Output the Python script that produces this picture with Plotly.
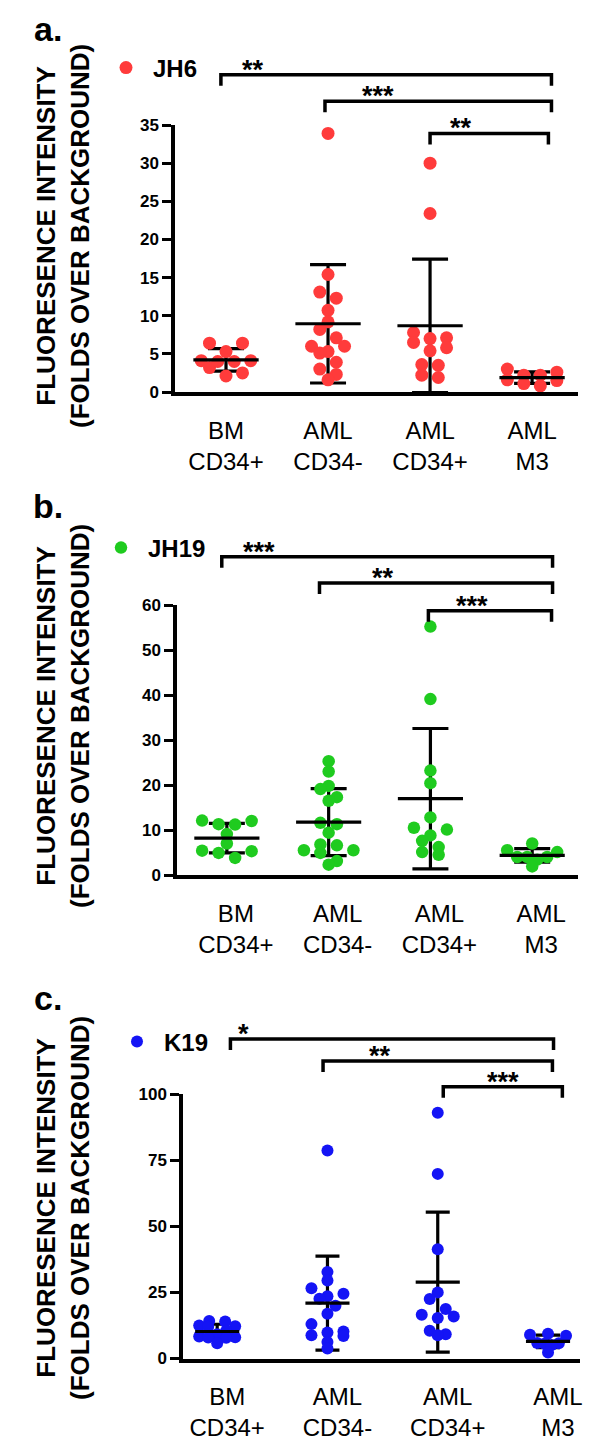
import numpy as np
import plotly.graph_objects as go

W, H = 600, 1454
FONT = "Liberation Sans, Arial, Helvetica, sans-serif"

# ---------------- data ----------------
categories = ["BM<br>CD34+", "AML<br>CD34-", "AML<br>CD34+", "AML<br>M3"]

jh6_bm_cd34pos = [4.1, 6.4, 3.2, 4.1, 5.3, 2.1, 4.0, 6.4, 2.5, 4.0]
jh6_aml_cd34neg = [33.9, 15.4, 13.1, 12.3, 10.7, 9.2, 8.2, 7.1, 6.0, 6.0, 5.3, 5.1, 3.9, 3.0, 2.3, 1.6]
jh6_aml_cd34pos = [30.0, 23.4, 7.8, 7.1, 7.0, 6.5, 5.8, 5.4, 3.6, 3.5, 2.2, 1.9]
jh6_aml_m3 = [3.0, 2.6, 2.2, 2.2, 1.6, 1.5, 1.1, 0.8]

jh19_bm_cd34pos = [12.1, 12.0, 11.3, 11.2, 9.1, 7.0, 5.4, 5.3, 4.9, 3.8]
jh19_aml_cd34neg = [25.3, 23.0, 19.8, 19.1, 17.3, 16.5, 11.6, 11.3, 9.4, 6.8, 6.6, 5.5, 5.5, 4.9, 3.1, 2.3]
jh19_aml_cd34pos = [55.2, 39.1, 23.2, 20.4, 12.8, 10.5, 10.1, 8.8, 7.6, 6.2, 5.1, 4.5]
jh19_aml_m3 = [7.0, 5.5, 5.1, 4.0, 4.0, 4.0, 3.4, 1.9]

k19_bm_cd34pos = [14.2, 14.0, 12.5, 12.2, 12.0, 10.5, 9.2, 8.3, 8.0, 7.9, 7.8, 5.8]
k19_aml_cd34neg = [78.6, 32.7, 29.5, 26.6, 24.5, 23.5, 22.6, 19.9, 16.9, 13.0, 10.2, 9.8, 8.8, 8.5, 6.2, 3.8]
k19_aml_cd34pos = [92.9, 69.8, 41.3, 25.0, 22.5, 18.7, 16.5, 15.9, 15.3, 10.5, 9.2, 8.8]
k19_aml_m3 = [9.4, 9.0, 8.6, 5.9, 5.8, 5.6, 5.1, 2.3]

jh6_ticks = [0, 5, 10, 15, 20, 25, 30, 35]
jh19_ticks = [0, 10, 20, 30, 40, 50, 60]
k19_ticks = [0, 25, 50, 75, 100]

# significance comparisons: (left x, right x, bar height, label, label x)
jh6_sig = [(-0.05, 3.19, 41.6, "**", 0.26), (0.97, 3.19, 38.1, "***", 1.49), (2.0, 3.16, 33.9, "**", 2.30)]
jh19_sig = [(-0.05, 3.20, 70.7, "***", 0.32), (0.91, 3.20, 64.9, "**", 1.53), (1.98, 3.19, 58.7, "***", 2.41)]
k19_sig = [(0.12, 3.05, 120.8, "*", 0.24), (0.96, 3.04, 112.5, "**", 1.48), (2.05, 3.13, 102.7, "***", 2.59)]

panels = [
    dict(name="JH6", letter="a.", color="#FF3B3B",
         groups=[jh6_bm_cd34pos, jh6_aml_cd34neg, jh6_aml_cd34pos, jh6_aml_m3],
         ticks=jh6_ticks, sig=jh6_sig,
         xpx=(175, 578), xr=(-0.50, 3.45), y0px=392, ytoppx=125, ext=46,
         msize=13, step=16.5, spread=25, half=0.32, cap=18, labshift=0,
         legend_px=(99, 68), letter_px=(48, 29), title_c=236),
    dict(name="JH19", letter="b.", color="#1FCB1F",
         groups=[jh19_bm_cd34pos, jh19_aml_cd34neg, jh19_aml_cd34pos, jh19_aml_m3],
         ticks=jh19_ticks, sig=jh19_sig,
         xpx=(177, 578), xr=(-0.49, 3.45), y0px=875, ytoppx=605, ext=76,
         msize=12.5, step=16.5, spread=25, half=0.32, cap=18, labshift=9,
         legend_px=(94, 548), letter_px=(48, 506), title_c=716),
    dict(name="K19", letter="c.", color="#1414F5",
         groups=[k19_bm_cd34pos, k19_aml_cd34neg, k19_aml_cd34pos, k19_aml_m3],
         ticks=k19_ticks, sig=k19_sig,
         xpx=(183, 580), xr=(-0.31, 3.29), y0px=1358.5, ytoppx=1094, ext=130,
         msize=12, step=16, spread=18, half=0.2, cap=12, labshift=10,
         legend_px=(110, 1042), letter_px=(48, 998), title_c=1208),
]


def px2x(p):
    return p / W


def px2y(p):
    return 1 - p / H


def swarm(values, ppu_y, ppu_x, step_px, bin_px, spread_px):
    """Prism-like column scatter: bin by y, centre each bin's points."""
    vals = np.asarray(values, float)
    off = np.zeros(len(vals))
    bins = {}
    for i, v in enumerate(vals):
        bins.setdefault(int(np.floor(v * ppu_y / bin_px)), []).append(i)
    for idxs in bins.values():
        idxs = sorted(idxs, key=lambda j: -vals[j])
        n = len(idxs)
        st = step_px if n < 2 else min(step_px, 2 * spread_px / (n - 1))
        slots = sorted([k - (n - 1) / 2 for k in range(n)], key=lambda s: (-abs(s), s))
        for j, s in zip(idxs, slots):
            off[j] = s * st / ppu_x
    return off


fig = go.Figure()
layout = {}
annotations = []

for i, p in enumerate(panels):
    k = i + 1
    ka = i + 4
    xn = "x" if k == 1 else f"x{k}"
    yn = "y" if k == 1 else f"y{k}"
    xo, yo = f"x{ka}", f"y{ka}"
    ytop = p["ticks"][-1]
    ppu_y = (p["y0px"] - p["ytoppx"]) / ytop
    ppu_x = (p["xpx"][1] - p["xpx"][0]) / (p["xr"][1] - p["xr"][0])
    xdom = [px2x(p["xpx"][0]), px2x(p["xpx"][1])]
    ydom = [px2y(p["y0px"]), px2y(p["ytoppx"])]
    ext_top_px = p["y0px"] - p["ext"] * ppu_y
    ydom_o = [px2y(p["y0px"]), px2y(ext_top_px)]

    means = [float(np.mean(g)) for g in p["groups"]]
    sds = [float(np.std(g, ddof=1)) for g in p["groups"]]

    # SD bars (under the dots)
    fig.add_trace(go.Scatter(
        x=list(range(4)), y=means, mode="markers", xaxis=xn, yaxis=yn,
        marker=dict(size=1, color="rgba(0,0,0,0)"), showlegend=False, hoverinfo="skip",
        error_y=dict(type="data", array=sds, width=p["cap"], thickness=3.2, color="black")))

    # dots
    xs, ys = [], []
    for gi, g in enumerate(p["groups"]):
        off = swarm(g, ppu_y, ppu_x, p["step"], p["msize"], p["spread"])
        xs += list(gi + off)
        ys += list(g)
    fig.add_trace(go.Scatter(
        x=xs, y=ys, mode="markers", xaxis=xn, yaxis=yn, name=p["name"],
        legend="legend" if k == 1 else f"legend{k}", showlegend=True, cliponaxis=False,
        marker=dict(size=p["msize"], color=p["color"], line=dict(width=0))))

    # mean lines (on top)
    fig.add_trace(go.Scatter(
        x=list(range(4)), y=means, mode="markers", xaxis=xn, yaxis=yn,
        marker=dict(size=1, color="rgba(0,0,0,0)"), showlegend=False, hoverinfo="skip",
        error_x=dict(type="constant", value=p["half"], width=0, thickness=3.2, color="black")))

    # significance brackets on an overlay axis pair with identical scale
    drop = 11 / ppu_y
    for (xl, xr_, yb, lab, lx) in p["sig"]:
        fig.add_trace(go.Scatter(
            x=[xl, xl, xr_, xr_], y=[yb - drop, yb, yb, yb - drop], mode="lines",
            xaxis=xo, yaxis=yo, line=dict(color="black", width=3.5), showlegend=False,
            hoverinfo="skip"))
        annotations.append(dict(x=lx, y=yb, xref=xo, yref=yo, text=lab, showarrow=False,
                                xanchor="center", yanchor="bottom", yshift=-12,
                                font=dict(family=FONT, size=27, color="black", weight="bold")))

    layout[f"xaxis{k if k > 1 else ''}"] = dict(
        domain=xdom, range=list(p["xr"]), anchor=yn, showgrid=False, zeroline=False,
        showline=True, linewidth=3.5, linecolor="black", ticks="", automargin=False,
        tickvals=list(range(4)), ticktext=categories, ticklabelstandoff=14,
        ticklabelshift=p["labshift"],
        tickfont=dict(family=FONT, size=24, color="black"))
    layout[f"yaxis{k if k > 1 else ''}"] = dict(
        domain=ydom, range=[0, ytop], anchor=xn, showgrid=False, zeroline=False,
        showline=True, linewidth=3.5, linecolor="black", ticks="outside", ticklen=9,
        tickwidth=3, tickcolor="black", tickvals=p["ticks"], automargin=False,
        tickfont=dict(family=FONT, size=17, color="black", weight="bold"))
    layout[f"xaxis{ka}"] = dict(domain=xdom, range=list(p["xr"]), anchor=yo, visible=False,
                                automargin=False)
    layout[f"yaxis{ka}"] = dict(domain=ydom_o, range=[0, p["ext"]], anchor=xo, visible=False,
                                automargin=False)

    lg = dict(x=px2x(p["legend_px"][0]), y=px2y(p["legend_px"][1]), xanchor="left",
              yanchor="middle", bgcolor="rgba(0,0,0,0)", borderwidth=0, itemwidth=44,
              font=dict(family=FONT, size=24, color="black", weight="bold"))
    layout["legend" if k == 1 else f"legend{k}"] = lg

    annotations.append(dict(x=px2x(p["letter_px"][0]), y=px2y(p["letter_px"][1]), xref="paper",
                            yref="paper", text=p["letter"], showarrow=False, xanchor="center",
                            yanchor="middle",
                            font=dict(family=FONT, size=34, color="black", weight="bold")))
    annotations.append(dict(x=px2x(63), y=px2y(p["title_c"]), xref="paper", yref="paper",
                            text="FLUORESENCE INTENSITY<br>(FOLDS OVER BACKGROUND)",
                            textangle=-90, align="center", showarrow=False, xanchor="center",
                            yanchor="middle",
                            font=dict(family=FONT, size=26, color="black", weight="bold")))

fig.update_layout(
    width=W, height=H, margin=dict(l=0, r=0, t=0, b=0, pad=0), autosize=False,
    paper_bgcolor="white", plot_bgcolor="rgba(0,0,0,0)",
    annotations=annotations, **layout)

fig.write_html("out.html", config={"displayModeBar": False},
               post_script="document.body.style.margin='0px';")
